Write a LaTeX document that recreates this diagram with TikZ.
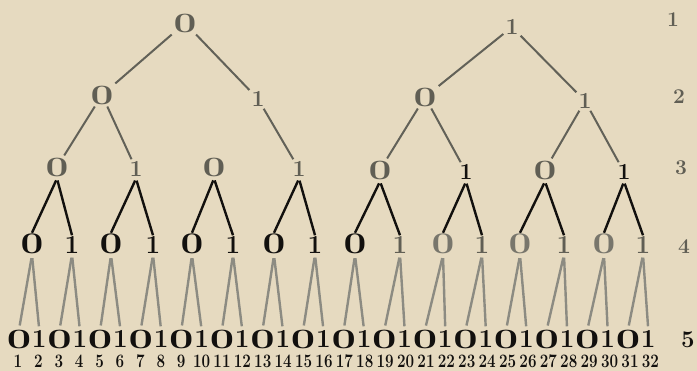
\documentclass[tikz,border=0pt]{standalone}
\usepackage{fontspec}
\usepackage{graphicx}
\definecolor{paper}{RGB}{230,218,192}
\definecolor{ink}{RGB}{18,16,14}
\definecolor{grayink}{RGB}{96,94,84}
\definecolor{midink}{RGB}{120,118,108}
\definecolor{lineA}{RGB}{98,97,88}
\definecolor{lineC}{RGB}{140,139,130}
\newcommand{\zA}{\scalebox{1.45}[1]{0}}
\newcommand{\zD}{\scalebox{1.35}[1]{0}}
\newcommand{\zL}{\scalebox{1.55}[1]{0}}
\begin{document}
\begin{tikzpicture}[x=1pt,y=-1pt,
  topzero/.style={font=\fontsize{28}{28}\selectfont\bfseries, text=grayink, inner sep=2pt},
  topone/.style={font=\fontsize{23}{23}\selectfont\bfseries, text=grayink, inner sep=2pt},
  dzero/.style={font=\fontsize{30}{30}\selectfont\bfseries, inner sep=1pt},
  done/.style={font=\fontsize{26}{26}\selectfont\bfseries, inner sep=1pt},
  lzero/.style={font=\fontsize{28}{28}\selectfont\bfseries, text=ink, inner sep=0pt},
  lone/.style={font=\fontsize{26}{26}\selectfont\bfseries, text=ink, inner sep=0pt},
  num/.style={font=\fontsize{19}{19}\selectfont\bfseries, text=ink, inner sep=0pt},
  rowlab/.style={font=\fontsize{21}{21}\selectfont\bfseries, text=grayink, inner sep=0pt},
  eA/.style={draw=lineA, line width=2pt},
  eC/.style={draw=ink, line width=2.4pt, shorten <=2pt},
  eD/.style={draw=lineC, line width=2.4pt, shorten <=3pt, shorten >=4pt}
]
\fill[paper] (0,0) rectangle (697,371);
\useasboundingbox (0,0) rectangle (697,371);

% level 1
\node[topzero] (r0) at (185,23) {\zA};
\node[topone]  (r1) at (512,27) {1};
% level 2
\node[topzero] (a0) at (102,95) {\zA};
\node[topone]  (a1) at (258,99) {1};
\node[topzero] (b0) at (425,97) {\zA};
\node[topone]  (b1) at (585,101) {1};
% level 3
\node[topzero] (c1) at (57,167) {\zA};
\node[topone]  (c2) at (136,169) {1};
\node[topzero] (c3) at (214,167) {\zA};
\node[topone]  (c4) at (299,169) {1};
\node[topzero] (c5) at (380,170) {\zA};
\node[topone, text=ink]  (c6) at (466,172) {1};
\node[topzero] (c7) at (545,170) {\zA};
\node[topone, text=ink]  (c8) at (624,172) {1};

% level 4
\foreach \x/\c [count=\k] in {32/ink,111/ink,192/ink,274/ink,355/ink,443/midink,520/midink,604/midink} {
  \pgfmathtruncatemacro\j{2*\k-1}
  \node[dzero, text=\c] (d\j) at (\x,244) {\zD};
}
\foreach \x/\c [count=\k] in {72/ink,153/ink,233/ink,315/ink,400/grayink,482/grayink,564/grayink,643/grayink} {
  \pgfmathtruncatemacro\j{2*\k}
  \node[done, text=\c] (d\j) at (\x,245) {1};
}

% level 5 and numbers
\foreach \i in {1,...,32} {
  \pgfmathsetmacro\x{19+(\i-1)*20.3}
  \pgfmathsetmacro\xn{18+(\i-1)*20.4}
  \ifodd\i
    \node[lzero] (l\i) at (\x,339) {\zL};
  \else
    \node[lone] (l\i) at (\x,339) {1};
  \fi
  \node[num] (n\i) at (\xn,361) {\scalebox{0.8}[1]{\i}};
}

% row labels
\node[rowlab] (row1) at (673,20) {1};
\node[rowlab] (row2) at (679,97) {2};
\node[rowlab] (row3) at (681,168) {3};
\node[rowlab] (row4) at (684,247) {4};
\node[rowlab, text=ink, font=\fontsize{24}{24}\selectfont\bfseries] (row5) at (688,340) {5};

% edges level 1-2-3
\draw[eA] (r0) -- (a0);
\draw[eA] (r0) -- (a1);
\draw[eA] (r1) -- (b0);
\draw[eA] (r1) -- (b1);
\draw[eA] (a0) -- (c1);
\draw[eA] (a0) -- (c2);
\draw[eA] (a1) -- (c4);
\draw[eA] (b0) -- (c5);
\draw[eA] (b0) -- (c6);
\draw[eA] (b1) -- (c7);
\draw[eA] (b1) -- (c8);

% edges level 3-4
\foreach \k in {1,...,8} {
  \pgfmathtruncatemacro\a{2*\k-1}
  \pgfmathtruncatemacro\b{2*\k}
  \draw[eC] (c\k.south) -- (d\a.north);
  \draw[eC] (c\k.south) -- (d\b.north);
}

% edges level 4-5
\foreach \j in {1,...,16} {
  \pgfmathtruncatemacro\a{2*\j-1}
  \pgfmathtruncatemacro\b{2*\j}
  \draw[eD] (d\j.south) -- (l\a.north);
  \draw[eD] (d\j.south) -- (l\b.north);
}
\end{tikzpicture}
\end{document}
